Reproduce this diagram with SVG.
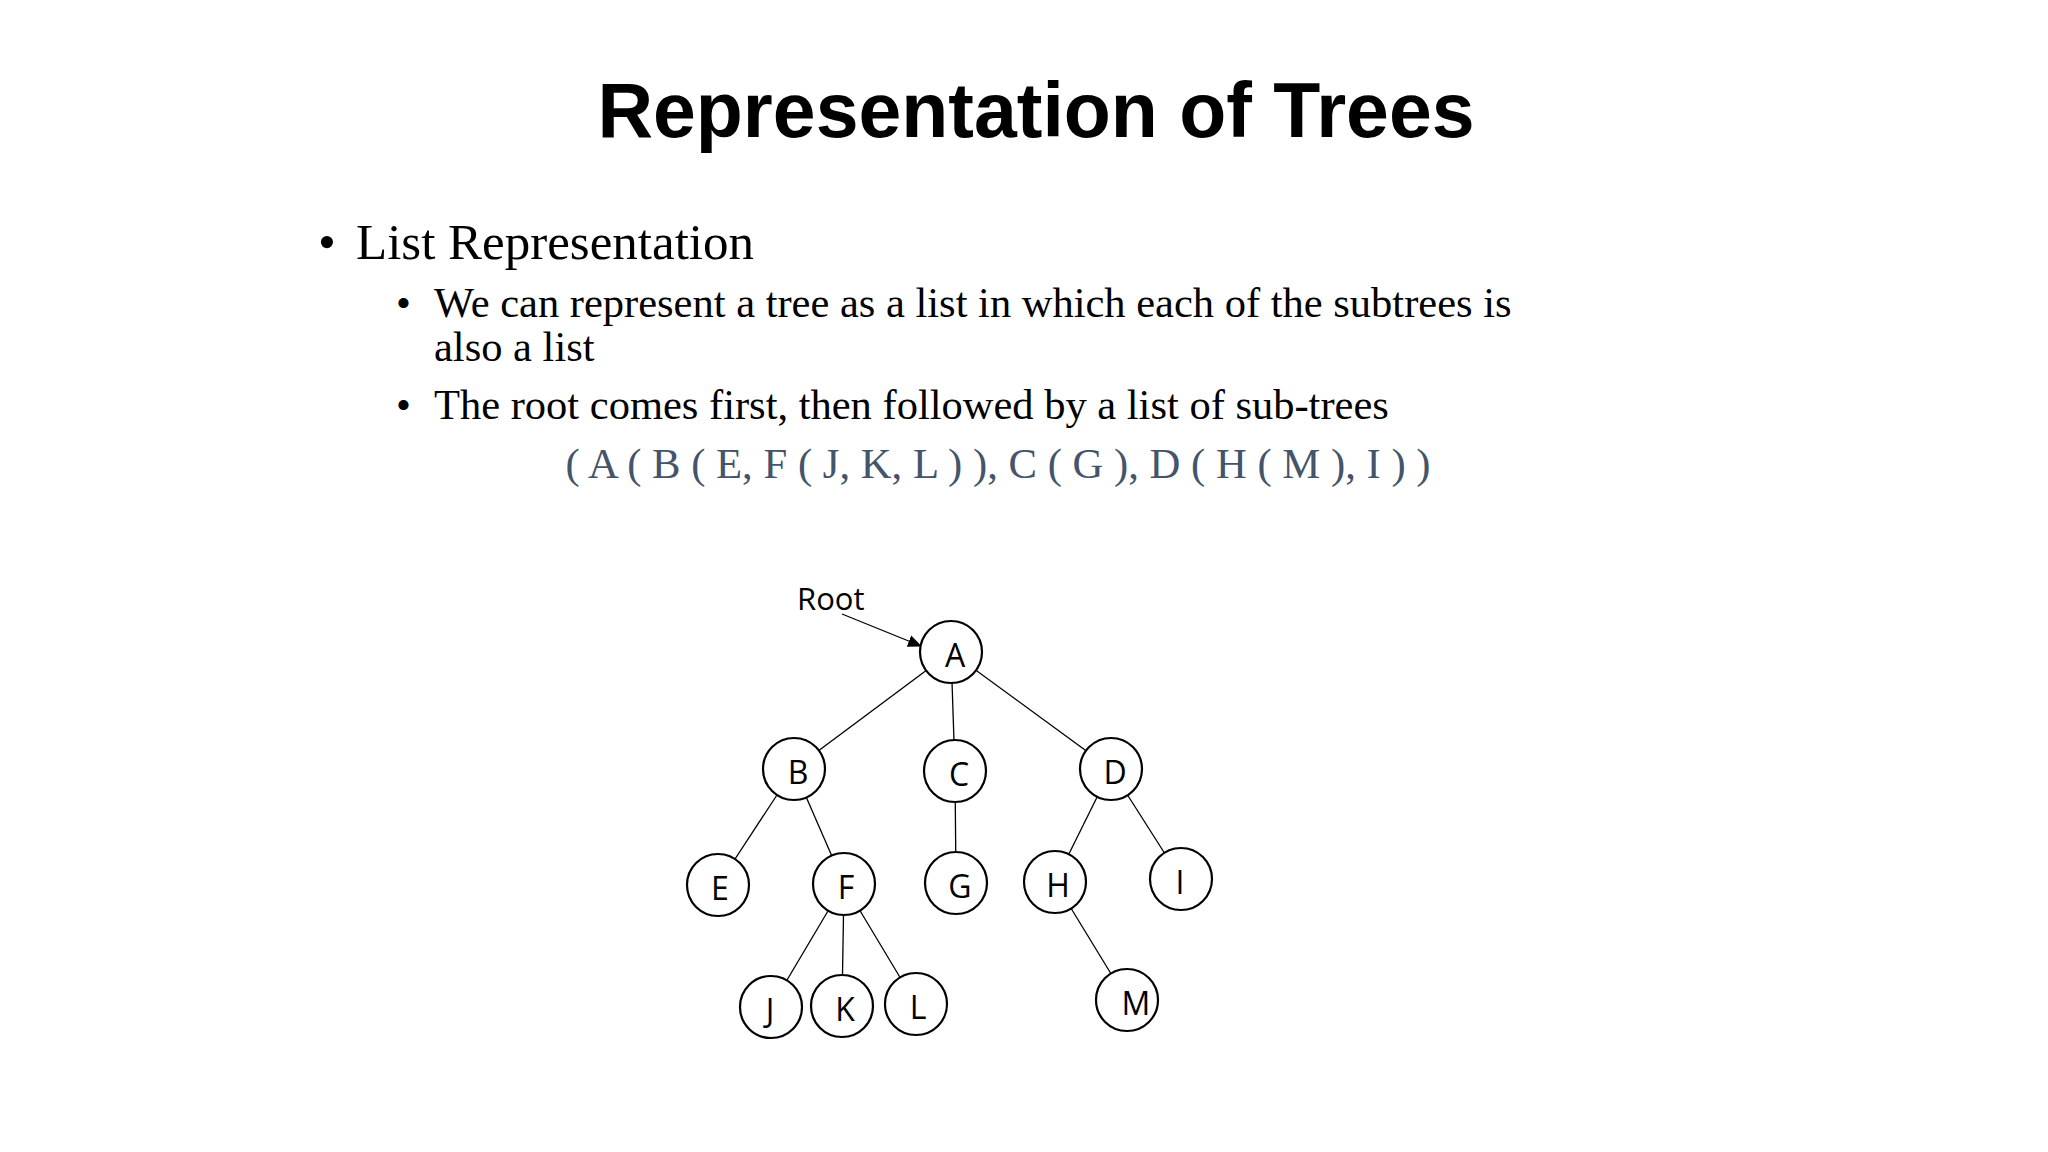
<svg xmlns="http://www.w3.org/2000/svg" width="2048" height="1152" viewBox="0 0 2048 1152">
<defs>
<style>
.t{font-family:"Liberation Serif",serif;fill:#000}
.n circle{fill:#fff;stroke:#000;stroke-width:2.2}
.n text{font-family:"Open Sans","Liberation Sans",sans-serif;font-size:32px;text-anchor:middle;fill:#000}
#edges line{stroke:#000;stroke-width:1.3}
</style>
<marker id="ah" markerWidth="14" markerHeight="14" refX="13" refY="7" orient="auto" markerUnits="userSpaceOnUse" viewBox="0 0 14 14"><path d="M0,1 L14,7 L0,13 z" fill="#000"/></marker>
</defs>
<rect width="2048" height="1152" fill="#fff"/>
<text x="1036" y="137" font-family="Liberation Sans,Arial,sans-serif" font-weight="bold" font-size="77" text-anchor="middle">Representation of Trees</text>
<text class="t" x="318" y="259" font-size="51">•</text>
<text class="t" x="356" y="259" font-size="51">List Representation</text>
<text class="t" x="396" y="317" font-size="42.5">•</text>
<text class="t" x="434" y="317" font-size="42.5">We can represent a tree as a list in which each of the subtrees is</text>
<text class="t" x="434" y="361" font-size="42.5">also a list</text>
<text class="t" x="396" y="419" font-size="42.5">•</text>
<text class="t" x="434" y="419" font-size="42.5">The root comes first, then followed by a list of sub-trees</text>
<text x="998" y="478" font-family="Liberation Serif,serif" font-size="42.7" fill="#44546A" text-anchor="middle">( A ( B ( E, F ( J, K, L ) ), C ( G ), D ( H ( M ), I ) )</text>
<text x="797" y="610" font-family="Open Sans,Liberation Sans,sans-serif" font-size="31">Root</text>
<g id="edges">
<line x1="842" y1="614" x2="921" y2="646" stroke-width="2.2" marker-end="url(#ah)"/>
<line x1="951" y1="652" x2="794" y2="769"/>
<line x1="951" y1="652" x2="955" y2="771"/>
<line x1="951" y1="652" x2="1111" y2="769"/>
<line x1="794" y1="769" x2="718" y2="885"/>
<line x1="794" y1="769" x2="844" y2="884"/>
<line x1="955" y1="771" x2="956" y2="883"/>
<line x1="1111" y1="769" x2="1055" y2="882"/>
<line x1="1111" y1="769" x2="1181" y2="879"/>
<line x1="844" y1="884" x2="771" y2="1007"/>
<line x1="844" y1="884" x2="842" y2="1006"/>
<line x1="844" y1="884" x2="916" y2="1004"/>
<line x1="1055" y1="882" x2="1127" y2="1000"/>
</g>
<g id="A" class="n"><circle cx="951" cy="652" r="31"/><text x="955" y="667">A</text></g>
<g id="B" class="n"><circle cx="794" cy="769" r="31"/><text x="798" y="784">B</text></g>
<g id="C" class="n"><circle cx="955" cy="771" r="31"/><text x="959" y="786">C</text></g>
<g id="D" class="n"><circle cx="1111" cy="769" r="31"/><text x="1115" y="784">D</text></g>
<g id="E" class="n"><circle cx="718" cy="885" r="31"/><text x="720" y="900">E</text></g>
<g id="F" class="n"><circle cx="844" cy="884" r="31"/><text x="846" y="899">F</text></g>
<g id="G" class="n"><circle cx="956" cy="883" r="31"/><text x="960" y="898">G</text></g>
<g id="H" class="n"><circle cx="1055" cy="882" r="31"/><text x="1058" y="897">H</text></g>
<g id="I" class="n"><circle cx="1181" cy="879" r="31"/><text x="1180" y="894">I</text></g>
<g id="J" class="n"><circle cx="771" cy="1007" r="31"/><text x="770" y="1022">J</text></g>
<g id="K" class="n"><circle cx="842" cy="1006" r="31"/><text x="845" y="1021">K</text></g>
<g id="L" class="n"><circle cx="916" cy="1004" r="31"/><text x="918" y="1019">L</text></g>
<g id="M" class="n"><circle cx="1127" cy="1000" r="31"/><text x="1136" y="1015">M</text></g>
</svg>
